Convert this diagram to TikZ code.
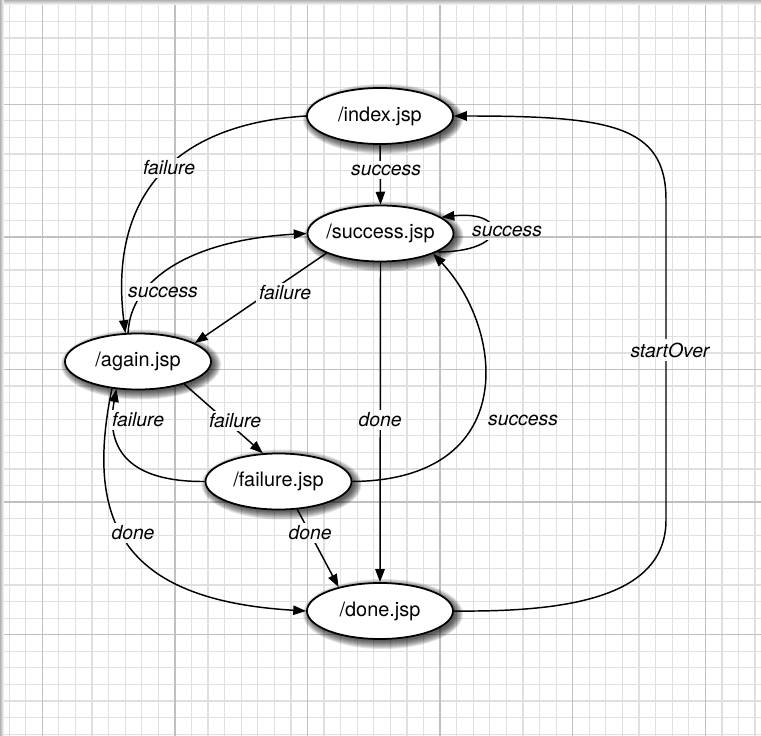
\documentclass[tikz,border=0pt]{standalone}
\usepackage{fontspec}
\setmainfont{TeX Gyre Heros}
\usetikzlibrary{shapes.geometric,arrows.meta}
\definecolor{gridminor}{RGB}{224,224,224}
\definecolor{gridmajor}{RGB}{192,192,192}
\pgfdeclarelayer{bg}
\pgfdeclarelayer{edges}
\pgfdeclarelayer{cut}
\pgfdeclarelayer{shadow}
\pgfdeclarelayer{fg}
\pgfsetlayers{bg,edges,cut,shadow,main,fg}
\newcommand{\drawgrid}{%
  \draw[gridminor,line width=1.05pt] \foreach \i in {0,...,45} {(9.15+16.575*\i,0) -- ++(0,736)};
  \draw[gridminor,line width=1.05pt] \foreach \j in {0,...,44} {(0,4.85+16.575*\j) -- ++(761,0)};
  \draw[gridmajor,line width=1.2pt] \foreach \i in {0,...,5} {(42.3+132.6*\i,0) -- ++(0,736)};
  \draw[gridmajor,line width=1.2pt] \foreach \j in {0,...,4} {(0,104.3+132.6*\j) -- ++(761,0)};
}
\tikzset{
  jsp/.style={ellipse, draw=black, line width=1.5pt, fill=white,
    minimum width=4.38cm, minimum height=1.68cm, inner sep=0pt,
    font=\fontsize{17}{20}\selectfont},
  conn/.style={line width=1.25pt, -{Triangle[length=11pt,width=8pt]}},
  lbl/.style={font=\fontsize{16.5}{19}\selectfont\itshape, inner sep=2.5pt},
  shadowpart/.style={fill=black, opacity=0.1}
}
\begin{document}
\begin{tikzpicture}[x=0.03cm,y=-0.03cm]
\useasboundingbox (0,0) rectangle (761,736);
\begin{pgfonlayer}{bg}
  \fill[white] (0,0) rectangle (761,736);
  \drawgrid
  \shade[top color=gray!60, bottom color=white] (0,0) rectangle (761,5);
  \shade[left color=gray!60, right color=white] (0,0) rectangle (4,736);
\end{pgfonlayer}

% soft shadows of the states
\begin{pgfonlayer}{shadow}
  \foreach \cx/\cy in {380/116, 380.5/233.5, 138/361.5, 278.5/481.5, 380/611} {
    \foreach \s in {0,...,8} {
      \fill[shadowpart] (\cx+3,\cy+3) ellipse [x radius={80-\s}, y radius={35-\s}];
    }
  }
\end{pgfonlayer}

% states
\node[jsp] (idx) at (380,116) {\makebox[0pt]{/index.jsp}};
\node[jsp] (suc) at (380.5,233.5) {\makebox[0pt]{/success.jsp}};
\node[jsp] (aga) at (138,361.5) {\makebox[0pt]{/again.jsp}};
\node[jsp] (fai) at (278.5,481.5) {\makebox[0pt]{/failure.jsp}};
\node[jsp] (don) at (380,611) {\makebox[0pt]{/done.jsp}};

% labels
\begin{pgfonlayer}{fg}
  \node[lbl] (l1) at (386,170) {success};
  \node[lbl] (l2) at (169,168) {failure};
  \node[lbl] (l3) at (507,231) {success};
  \node[lbl] (l4) at (163,292) {success};
  \node[lbl] (l5) at (285,293) {failure};
  \node[lbl] (l6) at (380,420) {done};
  \node[lbl] (l7) at (235,421) {failure};
  \node[lbl] (l8) at (138,420) {failure};
  \node[lbl] (l9) at (523,420) {success};
  \node[lbl] (l10) at (310,533) {done};
  \node[lbl] (l11) at (133,533) {done};
  \node[lbl] (l12) at (670,350) {startOver};
\end{pgfonlayer}

% connectors
\begin{pgfonlayer}{edges}
  \draw[conn] (idx.south) -- (suc.north);
  \draw[conn] (idx.west) .. controls (160,125) and (110,210) .. (aga.114);
  \draw[conn] (suc.-18) .. controls (510,252) and (508,210) .. (suc.15);
  \draw[conn] (aga.109) .. controls (130,280) and (190,240) .. (suc.west);
  \draw[conn] (suc.200) -- (aga.18);
  \draw[conn] (suc.south) -- (don.north);
  \draw[conn] (aga.-26) -- (fai.119);
  \draw[conn] (fai.west) .. controls (130,482) and (105,450) .. (aga.232);
  \draw[conn] (aga.226) .. controls (85,520) and (120,600) .. (don.west);
  \draw[conn] (fai.-56) -- (don.150);
  \draw[conn] (fai.east) .. controls (520,480) and (505,330) .. (suc.-21);
  \draw[conn] (don.east) .. controls (560,612) and (666,600) .. (666,520)
     -- (666,200) .. controls (666,125) and (610,116) .. (idx.east);
\end{pgfonlayer}

% gaps in connectors behind labels
\begin{pgfonlayer}{cut}
  \foreach \k in {1,...,12} {
    \begin{scope}
      \clip (l\k.south west) rectangle (l\k.north east);
      \fill[white] (l\k.south west) rectangle (l\k.north east);
      \drawgrid
    \end{scope}
  }
\end{pgfonlayer}
\end{tikzpicture}
\end{document}
